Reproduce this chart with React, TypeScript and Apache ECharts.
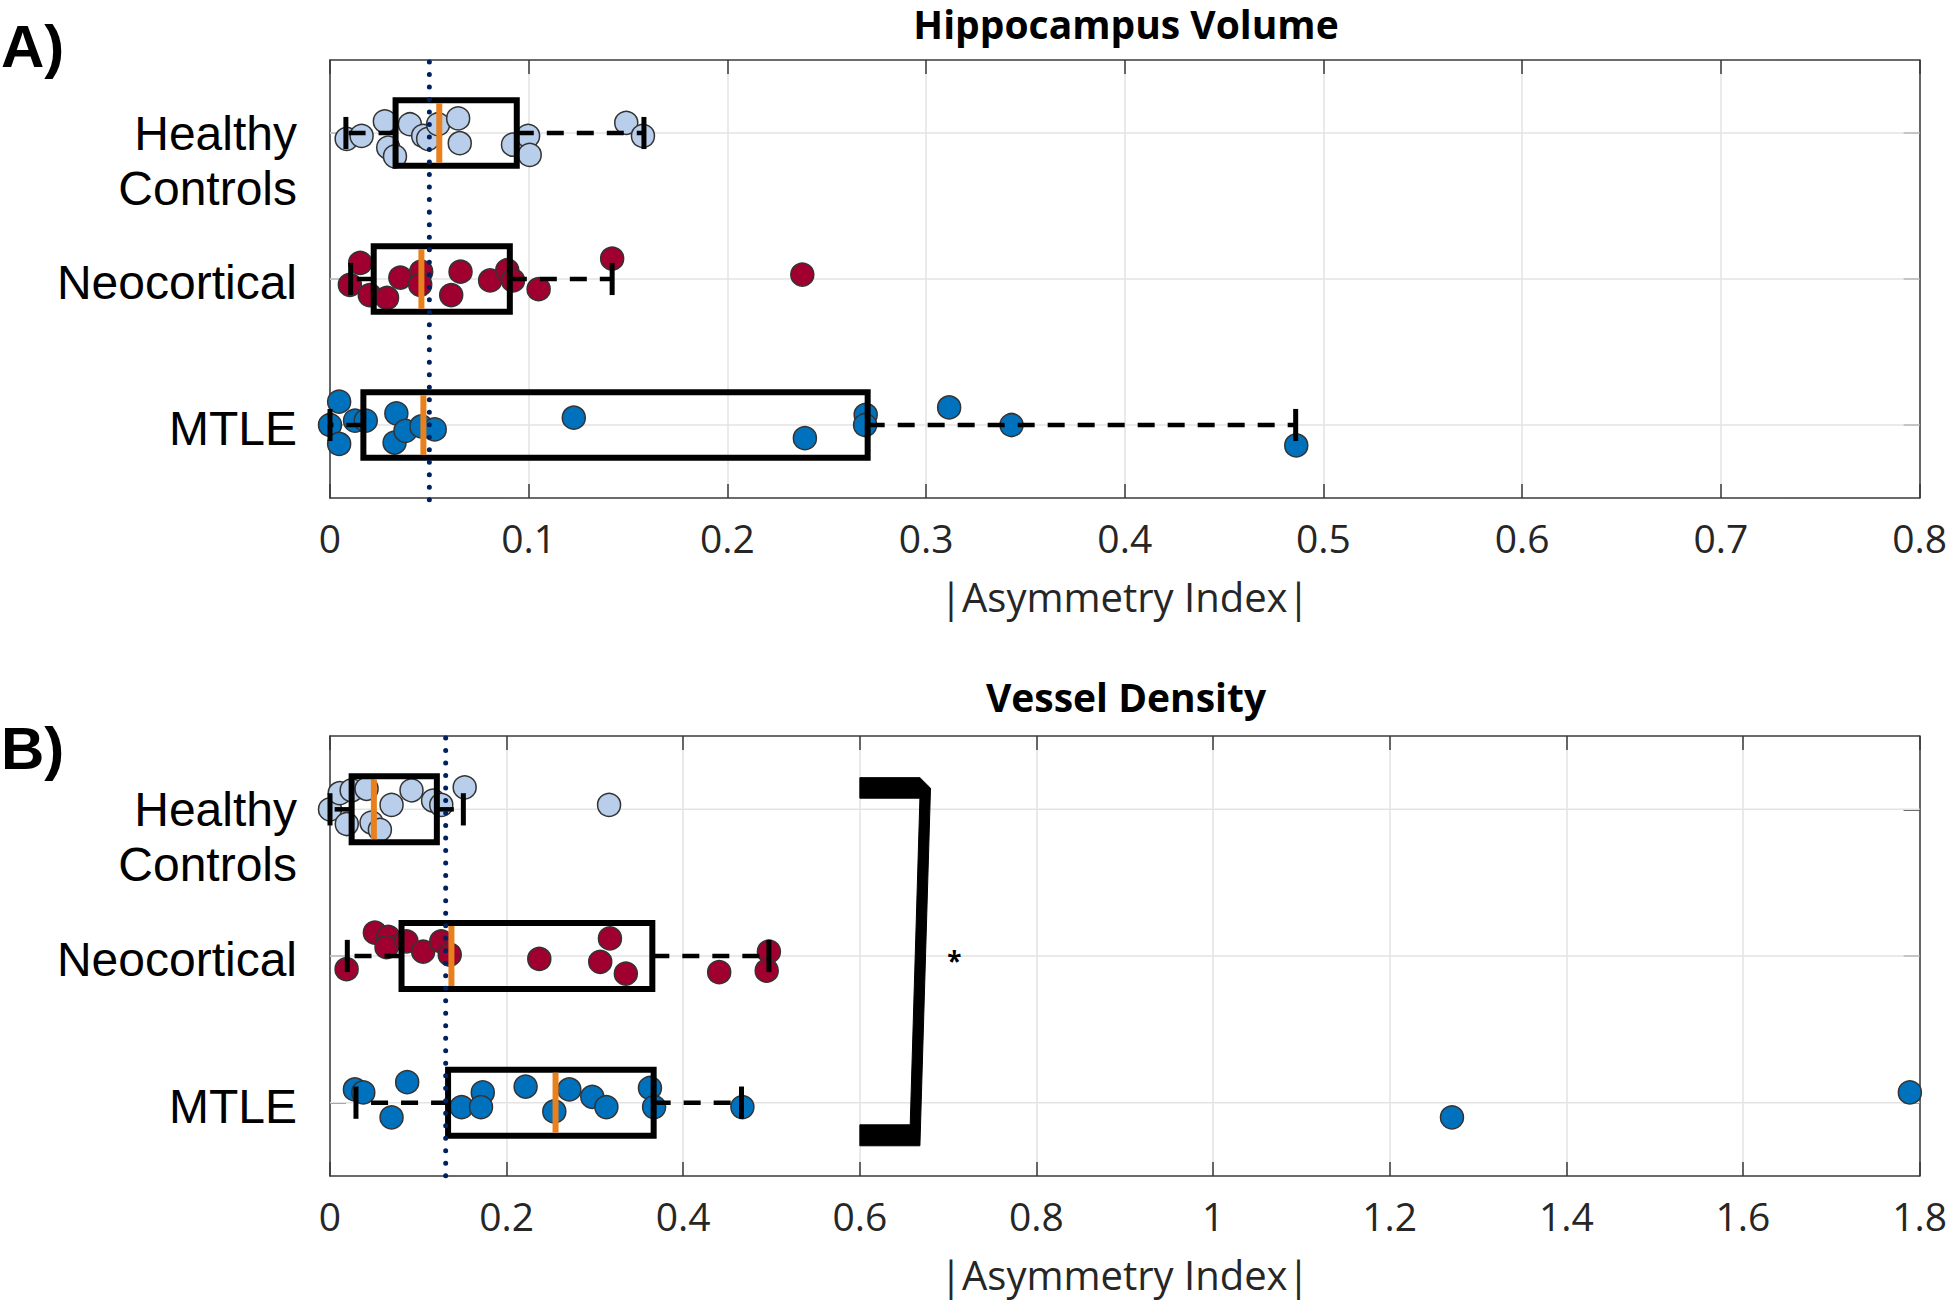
import React, { useEffect, useRef } from 'react';
import * as echarts from 'echarts';

// ---------- categories (positions on the y value axis) ----------
const categories = ['MTLE', 'Neocortical', 'Healthy Controls'];
const categoryPos = [1, 2, 3];

// ---------- x axis settings ----------
const xMaxA = 0.8;
const xStepA = 0.1;
const xMaxB = 1.8;
const xStepB = 0.2;

// ---------- Panel A: Hippocampus Volume ----------
const hcA = [0.0084, 0.0159, 0.0276, 0.0293, 0.0327, 0.0402, 0.0469, 0.0494, 0.0544, 0.0645, 0.0653, 0.0921, 0.0997, 0.1005, 0.1491, 0.1575];
const hcAJitter = [-0.04, -0.02, 0.08, -0.1, -0.16, 0.06, -0.02, -0.04, 0.06, 0.1, -0.07, -0.08, -0.02, -0.15, 0.07, -0.02];
const neoA = [0.0152, 0.01, 0.02, 0.0287, 0.0354, 0.0459, 0.0454, 0.0657, 0.061, 0.0806, 0.0892, 0.0921, 0.105, 0.142, 0.2377];
const neoAJitter = [0.11, -0.04, -0.11, -0.13, 0.01, 0.05, -0.04, 0.05, -0.11, -0.01, 0.06, -0.01, -0.07, 0.14, 0.03];
const mtleA = [0.0, 0.0046, 0.0046, 0.0126, 0.018, 0.0334, 0.0325, 0.038, 0.046, 0.0527, 0.1227, 0.239, 0.2696, 0.2693, 0.3116, 0.343, 0.4863];
const mtleAJitter = [0, 0.16, -0.13, 0.03, 0.03, 0.08, -0.12, -0.04, -0.01, -0.03, 0.05, -0.09, 0.07, 0, 0.12, 0, -0.14];
// [position, whiskerLow, Q1, median, Q3, whiskerHigh]
const boxA = [
  [1, 0.0, 0.0168, 0.047, 0.2706, 0.486],
  [2, 0.0104, 0.022, 0.046, 0.0905, 0.142],
  [3, 0.008, 0.033, 0.055, 0.094, 0.158],
];
const refLineA = [0.05];

// ---------- Panel B: Vessel Density ----------
const hcB = [0.0, 0.011, 0.0245, 0.019, 0.0414, 0.047, 0.0565, 0.0697, 0.0923, 0.1167, 0.126, 0.1525, 0.316];
const hcBJitter = [0, 0.11, 0.13, -0.1, 0.14, -0.09, -0.14, 0.03, 0.13, 0.06, 0.03, 0.15, 0.03];
const neoB = [0.0188, 0.0508, 0.066, 0.064, 0.0866, 0.1055, 0.126, 0.1356, 0.237, 0.317, 0.306, 0.335, 0.4407, 0.497, 0.4945];
const neoBJitter = [-0.09, 0.16, 0.13, 0.06, 0.1, 0.03, 0.1, 0.01, -0.02, 0.12, -0.04, -0.12, -0.11, 0.03, -0.1];
const mtleB = [0.0282, 0.0377, 0.0874, 0.0697, 0.149, 0.173, 0.171, 0.2215, 0.254, 0.271, 0.297, 0.313, 0.3623, 0.367, 0.467, 1.2705, 1.789];
const mtleBJitter = [0.09, 0.07, 0.14, -0.1, -0.03, 0.07, -0.03, 0.11, -0.06, 0.09, 0.04, -0.03, 0.1, -0.03, -0.03, -0.1, 0.07];
const boxB = [
  [1, 0.0294, 0.1337, 0.2554, 0.3665, 0.466],
  [2, 0.0196, 0.081, 0.1375, 0.365, 0.497],
  [3, 0.0, 0.0245, 0.0497, 0.121, 0.151],
];
const refLineB = [0.131];
// significance bracket outline (x value, y position)
const bracketB = [
  [0.6, 3.216], [0.668, 3.216], [0.68, 3.144], [0.668, 0.706], [0.6, 0.706],
  [0.6, 0.849], [0.657, 0.849], [0.668, 3.076], [0.6, 3.076],
];
const starB = [[0.707, 1.963]];

const colors = { hc: '#B8CEEA', neo: '#A00030', mtle: '#0072BD' };
const axisColor = '#3a3a3a';
const textColor = '#262626';

const toPts = (xs: number[], jit: number[], pos: number) => xs.map((x, i) => [x, pos + jit[i]]);

function renderBox(params: any, api: any) {
  const pos = api.value(0);
  const wl = api.value(1), q1 = api.value(2), med = api.value(3), q3 = api.value(4), wh = api.value(5);
  const h = 0.225;
  const c = 0.11;
  const p = (x: number, y: number) => api.coord([x, y]);
  const a = p(q1, pos + h);
  const b = p(q3, pos - h);
  const dash = { stroke: '#000', lineWidth: 4.5, lineDash: [17, 13] };
  const wlP = p(wl, pos), whP = p(wh, pos), q1P = p(q1, pos), q3P = p(q3, pos);
  const capL1 = p(wl, pos + c), capL2 = p(wl, pos - c);
  const capH1 = p(wh, pos + c), capH2 = p(wh, pos - c);
  const m1 = p(med, pos + h), m2 = p(med, pos - h);
  return {
    type: 'group',
    children: [
      { type: 'line', shape: { x1: q1P[0], y1: q1P[1], x2: wlP[0], y2: wlP[1] }, style: dash },
      { type: 'line', shape: { x1: q3P[0], y1: q3P[1], x2: whP[0], y2: whP[1] }, style: dash },
      { type: 'line', shape: { x1: capL1[0], y1: capL1[1], x2: capL2[0], y2: capL2[1] }, style: { stroke: '#000', lineWidth: 5 } },
      { type: 'line', shape: { x1: capH1[0], y1: capH1[1], x2: capH2[0], y2: capH2[1] }, style: { stroke: '#000', lineWidth: 5 } },
      { type: 'rect', shape: { x: a[0], y: a[1], width: b[0] - a[0], height: b[1] - a[1] }, style: { fill: 'none', stroke: '#000', lineWidth: 6 } },
      { type: 'line', shape: { x1: m1[0], y1: m1[1] + 3, x2: m2[0], y2: m2[1] - 3 }, style: { stroke: '#E8801E', lineWidth: 6 } },
    ],
  };
}

function renderGridLine(params: any, api: any) {
  const pos = api.value(0);
  const xmax = api.value(1);
  const s = api.coord([0, pos]);
  const e = api.coord([xmax, pos]);
  return { type: 'line', shape: { x1: s[0], y1: s[1], x2: e[0], y2: e[1] }, style: { stroke: '#e3e3e3', lineWidth: 1.5 } };
}

function renderRefLine(params: any, api: any) {
  const v = api.value(0);
  const s = api.coord([v, 3.5]);
  const e = api.coord([v, 0.5]);
  return {
    type: 'line',
    shape: { x1: s[0], y1: s[1] + 2, x2: e[0], y2: e[1] + 4 },
    style: { stroke: '#002060', lineWidth: 5, lineDash: [0.01, 12.5], lineCap: 'round' },
  };
}

function renderBracket(params: any, api: any) {
  const pts = bracketB.map((d) => api.coord(d));
  return { type: 'polygon', shape: { points: pts }, style: { fill: '#000', stroke: '#000', lineWidth: 1 } };
}

function renderStar(params: any, api: any) {
  const pt = api.coord([api.value(0), api.value(1)]);
  return {
    type: 'text', x: pt[0], y: pt[1],
    style: { text: '*', font: 'bold 26px "Open Sans"', fill: '#000', align: 'center', verticalAlign: 'middle' },
  };
}

function makeAxes(gridIndex: number, xMax: number, xStep: number) {
  const xBottom = {
    type: 'value', gridIndex, min: 0, max: xMax, interval: xStep, position: 'bottom',
    name: '|Asymmetry Index|', nameLocation: 'middle', nameGap: 78,
    nameTextStyle: { fontFamily: 'Open Sans', fontSize: 40, color: textColor },
    axisLine: { show: true, onZero: false, lineStyle: { color: axisColor, width: 1.5 } },
    axisTick: { show: true, inside: true, length: 14, lineStyle: { color: axisColor, width: 1.5 } },
    axisLabel: { fontFamily: 'Open Sans', fontSize: 39, color: textColor, margin: 20 },
    splitLine: { show: true, lineStyle: { color: '#e3e3e3', width: 1.5 } },
  };
  const xTop = {
    type: 'value', gridIndex, min: 0, max: xMax, interval: xStep, position: 'top',
    axisLine: { show: true, onZero: false, lineStyle: { color: axisColor, width: 1.5 } },
    axisTick: { show: true, inside: true, length: 14, lineStyle: { color: axisColor, width: 1.5 } },
    axisLabel: { show: false },
    splitLine: { show: false },
  };
  const yLeft = {
    type: 'value', gridIndex, min: 0.5, max: 3.5, position: 'left',
    axisLine: { show: true, onZero: false, lineStyle: { color: axisColor, width: 1.5 } },
    axisTick: { show: true, inside: true, length: 16, customValues: categoryPos, lineStyle: { color: axisColor, width: 1.5 } },
    axisLabel: {
      customValues: categoryPos, margin: 33, fontFamily: 'Liberation Sans', fontSize: 48, color: '#000', lineHeight: 55,
      formatter: (v: number) => {
        const name = categories[Math.round(v) - 1] || '';
        return name === 'Healthy Controls' ? '\nHealthy\nControls' : '{s|' + name + '}';
      },
      rich: {
        s: { fontFamily: 'Liberation Sans', fontSize: 48, color: '#000', lineHeight: 55, padding: [7, 0, 0, 0] },
      },
    },
    splitLine: { show: false },
  };
  const yRight = {
    type: 'value', gridIndex, min: 0.5, max: 3.5, position: 'right',
    axisLine: { show: true, onZero: false, lineStyle: { color: axisColor, width: 1.5 } },
    axisTick: { show: true, inside: true, length: 16, customValues: categoryPos, lineStyle: { color: axisColor, width: 1.5 } },
    axisLabel: { show: false },
    splitLine: { show: false },
  };
  return { x: [xBottom, xTop], y: [yLeft, yRight] };
}

function scatter(name: string, data: number[][], color: string, xAxisIndex: number, yAxisIndex: number) {
  return {
    type: 'scatter', name, data, xAxisIndex, yAxisIndex, symbol: 'circle', symbolSize: 23, clip: false, z: 2,
    itemStyle: { color, borderColor: '#333', borderWidth: 1.5, opacity: 1 },
  };
}

export default function App() {
  const ref = useRef<HTMLDivElement>(null);
  useEffect(() => {
    if (!ref.current) return;
    const chart = echarts.init(ref.current, undefined, { renderer: 'svg' });
    const axA = makeAxes(0, xMaxA, xStepA);
    const axB = makeAxes(1, xMaxB, xStepB);
    const option: any = {
      animation: false,
      backgroundColor: '#fff',
      grid: [
        { left: 330, top: 60, width: 1592, height: 438, containLabel: false },
        { left: 330, top: 736, width: 1593, height: 440, containLabel: false },
      ],
      xAxis: [...axA.x, ...axB.x],
      yAxis: [...axA.y, ...axB.y],
      graphic: [
        { type: 'text', x: 1126, y: 23, style: { text: 'Hippocampus Volume', font: 'bold 39px "Open Sans"', fill: '#000', align: 'center', verticalAlign: 'middle' } },
        { type: 'text', x: 1126, y: 696, style: { text: 'Vessel Density', font: 'bold 39px "Open Sans"', fill: '#000', align: 'center', verticalAlign: 'middle' } },
        { type: 'text', x: 1, y: 46, style: { text: 'A)', font: 'bold 60px "Liberation Sans"', fill: '#000', align: 'left', verticalAlign: 'middle' } },
        { type: 'text', x: 1, y: 748, style: { text: 'B)', font: 'bold 60px "Liberation Sans"', fill: '#000', align: 'left', verticalAlign: 'middle' } },
      ],
      series: [
        { type: 'custom', xAxisIndex: 0, yAxisIndex: 0, z: 1, renderItem: renderGridLine, data: categoryPos.map((p) => [p, xMaxA]), encode: { x: 1, y: 0 }, silent: true },
        { type: 'custom', xAxisIndex: 2, yAxisIndex: 2, z: 1, renderItem: renderGridLine, data: categoryPos.map((p) => [p, xMaxB]), encode: { x: 1, y: 0 }, silent: true },
        scatter('Healthy Controls A', toPts(hcA, hcAJitter, 3), colors.hc, 0, 0),
        scatter('Neocortical A', toPts(neoA, neoAJitter, 2), colors.neo, 0, 0),
        scatter('MTLE A', toPts(mtleA, mtleAJitter, 1), colors.mtle, 0, 0),
        scatter('Healthy Controls B', toPts(hcB, hcBJitter, 3), colors.hc, 2, 2),
        scatter('Neocortical B', toPts(neoB, neoBJitter, 2), colors.neo, 2, 2),
        scatter('MTLE B', toPts(mtleB, mtleBJitter, 1), colors.mtle, 2, 2),
        { type: 'custom', xAxisIndex: 0, yAxisIndex: 0, z: 3, renderItem: renderBox, data: boxA, encode: { x: [1, 2, 3, 4, 5], y: 0 }, silent: true },
        { type: 'custom', xAxisIndex: 2, yAxisIndex: 2, z: 3, renderItem: renderBox, data: boxB, encode: { x: [1, 2, 3, 4, 5], y: 0 }, silent: true },
        { type: 'custom', xAxisIndex: 0, yAxisIndex: 0, z: 4, renderItem: renderRefLine, data: refLineA.map((v) => [v]), encode: { x: 0 }, silent: true },
        { type: 'custom', xAxisIndex: 2, yAxisIndex: 2, z: 4, renderItem: renderRefLine, data: refLineB.map((v) => [v]), encode: { x: 0 }, silent: true },
        { type: 'custom', xAxisIndex: 2, yAxisIndex: 2, z: 4, renderItem: renderBracket, data: [[bracketB[0][0], bracketB[0][1]]], encode: { x: 0, y: 1 }, silent: true },
        { type: 'custom', xAxisIndex: 2, yAxisIndex: 2, z: 4, renderItem: renderStar, data: starB, encode: { x: 0, y: 1 }, silent: true },
      ],
    };
    chart.setOption(option);
    return () => chart.dispose();
  }, []);
  return (
    <div
      ref={ref}
      style={{ position: 'fixed', left: 0, top: 0, width: 1950, height: 1300, background: '#fff' }}
    />
  );
}
